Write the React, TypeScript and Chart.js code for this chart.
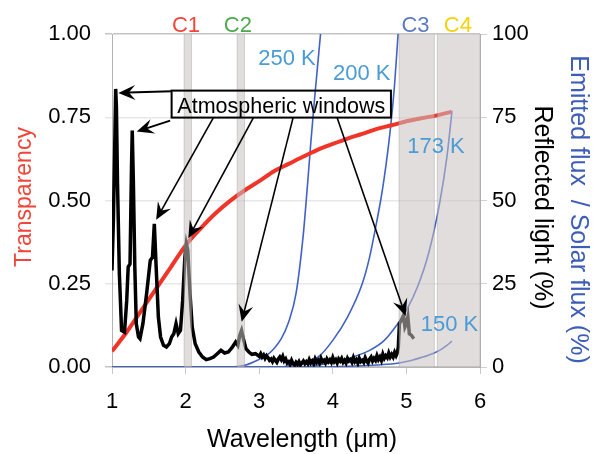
import React, { useEffect, useRef } from 'react';
import { Chart, registerables } from 'chart.js';
Chart.register(...registerables);

const FONT = '"Liberation Sans", Arial, Helvetica, sans-serif';

// Transparency of the atmosphere (left axis, 0..1)
const transWl = [1.00,1.02,1.04,1.05,1.06,1.075,1.10,1.13,1.17,1.20,1.22,1.245,1.265,1.275,1.29,1.31,1.33,1.36,1.38,1.42,1.47,1.52,1.55,1.575,1.60,1.63,1.66,1.70,1.74,1.78,1.81,1.84,1.87,1.90,1.93,1.96,1.99,2.01,2.03,2.06,2.09,2.13,2.18,2.23,2.28,2.33,2.38,2.43,2.48,2.53,2.58,2.63,2.68,2.71,2.735,2.76,2.785,2.82,2.86,2.90,2.95,
  3.00,3.02,3.04,3.06,3.08,3.10,3.12,3.14,3.16,3.18,3.20,3.22,3.24,3.26,3.28,3.30,3.32,3.34,3.36,3.38,3.40,3.42,3.44,3.46,3.48,3.50,3.52,3.54,3.56,3.58,3.60,3.62,3.64,3.66,3.68,3.70,3.72,3.74,3.76,3.78,3.80,3.82,3.84,3.86,3.88,3.90,3.92,3.94,3.96,3.98,
  4.00,4.02,4.04,4.06,4.08,4.10,4.12,4.14,4.16,4.18,4.20,4.22,4.24,4.26,4.28,4.30,4.32,4.34,4.36,4.38,4.40,4.42,4.44,4.46,4.48,4.50,4.52,4.54,4.56,4.58,4.60,4.62,4.64,4.66,4.68,4.70,4.72,4.74,4.76,4.78,4.80,4.82,4.84,4.86,4.875,
  4.89,4.905,4.93,4.96,4.98,5.00,5.02,5.04,5.07,5.10];
const transVal = [0.29,0.45,0.70,0.835,0.78,0.55,0.28,0.11,0.105,0.20,0.30,0.31,0.60,0.71,0.56,0.30,0.13,0.09,0.085,0.13,0.22,0.32,0.33,0.43,0.30,0.15,0.09,0.065,0.06,0.07,0.09,0.10,0.13,0.10,0.11,0.20,0.33,0.37,0.35,0.22,0.12,0.07,0.045,0.03,0.022,0.025,0.03,0.04,0.05,0.042,0.045,0.058,0.075,0.065,0.095,0.11,0.085,0.055,0.045,0.038,0.04,
  0.032,0.04,0.03,0.036,0.026,0.034,0.028,0.02,0.024,0.016,0.026,0.02,0.014,0.024,0.03,0.022,0.032,0.018,0.024,0.012,0.016,0.008,0.02,0.01,0.006,0.014,0.008,0.016,0.006,0.012,0.018,0.01,0.016,0.01,0.022,0.012,0.018,0.01,0.024,0.014,0.02,0.012,0.026,0.016,0.02,0.012,0.024,0.016,0.022,0.014,
  0.028,0.016,0.022,0.012,0.024,0.018,0.026,0.014,0.02,0.012,0.026,0.018,0.022,0.014,0.028,0.016,0.022,0.012,0.026,0.016,0.02,0.014,0.028,0.018,0.012,0.024,0.03,0.018,0.026,0.02,0.034,0.022,0.03,0.02,0.038,0.026,0.034,0.028,0.042,0.03,0.038,0.03,0.044,0.034,0.042,
  0.06,0.13,0.14,0.155,0.12,0.13,0.15,0.10,0.095,0.085];

// Reflected light (%), right axis
const reflWl = [1.0,1.2,1.4,1.6,1.8,2.0,2.2,2.4,2.6,2.8,3.0,3.2,3.4,3.6,3.8,4.0,4.2,4.4,4.6,4.8,5.0,5.2,5.4,5.61];
const reflVal = [4.7,10.5,17,23.5,30,36.5,41.5,46,49.8,53,55.8,58.8,61,63.2,65.3,67,68.6,70,71.5,72.6,73.8,74.7,75.5,76.6];

// Emitted flux / solar flux (%), right axis
const k250Wl = [1.0,2.6,2.8,3.0,3.1,3.2,3.3,3.4,3.5,3.6,3.65,3.7,3.75,3.8,3.85];
const k250Val = [0,0,0.5,2.3,3.5,5.5,8.5,13.5,22,40,53,67,80,92,104];
const k200Wl = [1.0,3.3,3.5,3.8,4.0,4.2,4.4,4.5,4.6,4.65,4.7,4.78,4.84,4.89];
const k200Val = [0,0,1,3,8,15,25,33,44,50,57,71,85,101];
const k173Wl = [1.0,3.6,3.9,4.2,4.5,4.7,4.85,5.0,5.15,5.3,5.45,5.55,5.62];
const k173Val = [0,0,1,2.5,5,8,12,17,24,34,49,63,77];
const k150Wl = [1.0,3.8,4.3,4.6,4.9,5.1,5.3,5.45,5.55,5.62];
const k150Val = [0,0,0.3,0.6,1.2,2.2,3.5,5,6.5,7.8];

// Spectral windows
const bandLabels = ['C1', 'C2', 'C3', 'C4'];
const bandStart = [1.98, 2.70, 4.90, 5.42];
const bandEnd = [2.08, 2.80, 5.38, 6.0];
const bandLabelX = [2.005, 2.71, 5.123, 5.70];
const bandLabelColors = ['#f0463a', '#4caa4c', '#5a7cc4', '#f6d20e'];

// Temperature labels
const tempLabels = ['250 K', '200 K', '173 K', '150 K'];
const tempX = [3.378, 4.393, 5.402, 5.585];
const tempY = [0.908, 0.863, 0.644, 0.108];

// Arrows from the "Atmospheric windows" box to the peaks
const arrowFrom = [[1.81, 0.828], [1.79, 0.74], [2.376, 0.748], [2.92, 0.748], [3.46, 0.748], [4.06, 0.748]];
const arrowTo = [[1.086, 0.823], [1.336, 0.707], [1.60, 0.442], [2.037, 0.387], [2.762, 0.136], [4.99, 0.153]];
const boxX = [1.81, 4.79];
const boxY = [0.749, 0.83];

const pts = (xs: number[], ys: number[]) => xs.map((x, i) => ({ x, y: ys[i] }));

function drawArrow(ctx: CanvasRenderingContext2D, x1: number, y1: number, x2: number, y2: number, lw: number) {
  const ang = Math.atan2(y2 - y1, x2 - x1);
  const dx = Math.cos(ang), dy = Math.sin(ang);
  const nx = -dy, ny = dx;
  const L = 17, W = 7.5;
  ctx.lineWidth = lw;
  ctx.beginPath();
  ctx.moveTo(x1, y1);
  ctx.lineTo(x2 - dx * L * 0.6, y2 - dy * L * 0.6);
  ctx.stroke();
  ctx.beginPath();
  ctx.moveTo(x2, y2);
  ctx.lineTo(x2 - dx * L + nx * W, y2 - dy * L + ny * W);
  ctx.lineTo(x2 - dx * L * 0.62, y2 - dy * L * 0.62);
  ctx.lineTo(x2 - dx * L - nx * W, y2 - dy * L - ny * W);
  ctx.closePath();
  ctx.fill();
}

const overlay = {
  id: 'overlay',
  afterDatasetsDraw(chart: any) {
    const { ctx, chartArea, scales } = chart;
    const x = scales.x;
    ctx.save();
    bandStart.forEach((s, i) => {
      const x1 = x.getPixelForValue(s);
      const x2 = x.getPixelForValue(bandEnd[i]);
      ctx.fillStyle = 'rgba(200,193,193,0.55)';
      ctx.fillRect(x1, chartArea.top, x2 - x1, chartArea.bottom - chartArea.top);
      ctx.strokeStyle = 'rgba(150,140,140,0.35)';
      ctx.lineWidth = 1;
      ctx.beginPath();
      ctx.moveTo(x1, chartArea.top); ctx.lineTo(x1, chartArea.bottom);
      ctx.moveTo(x2, chartArea.top); ctx.lineTo(x2, chartArea.bottom);
      ctx.stroke();
    });
    ctx.restore();
  },
  afterDraw(chart: any) {
    const { ctx, scales } = chart;
    const x = scales.x, y = scales.y;
    const px = (v: number) => x.getPixelForValue(v);
    const py = (v: number) => y.getPixelForValue(v);
    ctx.save();
    // band labels
    ctx.textAlign = 'center';
    ctx.textBaseline = 'alphabetic';
    ctx.font = `22px ${FONT}`;
    bandLabels.forEach((t, i) => {
      ctx.fillStyle = bandLabelColors[i];
      ctx.fillText(t, px(bandLabelX[i]), 31.5);
    });
    // temperature labels
    ctx.font = `22px ${FONT}`;
    ctx.fillStyle = '#4a9bd6';
    tempLabels.forEach((t, i) => ctx.fillText(t, px(tempX[i]), py(tempY[i])));
    // box
    ctx.strokeStyle = '#000';
    ctx.lineWidth = 2;
    const bx1 = px(boxX[0]), bx2 = px(boxX[1]), by1 = py(boxY[1]), by2 = py(boxY[0]);
    ctx.strokeRect(bx1, by1, bx2 - bx1, by2 - by1);
    ctx.fillStyle = '#000';
    ctx.font = `21.5px ${FONT}`;
    ctx.fillText('Atmospheric windows', (bx1 + bx2) / 2, by2 - 5);
    // arrows
    ctx.strokeStyle = '#000';
    ctx.fillStyle = '#000';
    arrowFrom.forEach((f, i) => {
      const t = arrowTo[i];
      drawArrow(ctx, px(f[0]), py(f[1]), px(t[0]), py(t[1]), i < 2 ? 2 : 1.6);
    });
    // axis titles
    ctx.font = `23px ${FONT}`;
    ctx.fillStyle = '#f0463a';
    ctx.save();
    ctx.translate(31, 197);
    ctx.rotate(-Math.PI / 2);
    ctx.textAlign = 'center';
    ctx.fillText('Transparency', 0, 0);
    ctx.restore();

    ctx.font = `25px ${FONT}`;
    ctx.fillStyle = '#000';
    ctx.save();
    ctx.translate(535, 207.5);
    ctx.rotate(Math.PI / 2);
    ctx.textAlign = 'center';
    ctx.fillText('Reflected light (%)', 0, 0);
    ctx.restore();

    ctx.fillStyle = '#3d5db8';
    ctx.save();
    ctx.translate(570.5, 209.5);
    ctx.rotate(Math.PI / 2);
    ctx.textAlign = 'center';
    ctx.fillText('Emitted flux  / Solar flux (%)', 0, 0);
    ctx.restore();

    ctx.fillStyle = '#000';
    ctx.textAlign = 'center';
    ctx.fillText('Wavelength (\u03bcm)', 302, 447);
    ctx.restore();
  },
};

export default function App() {
  const ref = useRef<HTMLCanvasElement>(null);
  useEffect(() => {
    const blue = 'rgb(64,98,196)';
    const tickFont = { family: FONT, size: 22 };
    const chart = new Chart(ref.current as HTMLCanvasElement, {
      type: 'line',
      data: {
        datasets: [
          { label: 'Transparency', data: pts(transWl, transVal), yAxisID: 'y', borderColor: '#000', borderWidth: 3.5, pointRadius: 0, tension: 0, order: 0 },
          { label: 'Reflected light', data: pts(reflWl, reflVal), yAxisID: 'y1', borderColor: 'rgb(240,52,40)', borderWidth: 4, pointRadius: 0, cubicInterpolationMode: 'monotone', order: 1 },
          { label: '250 K', data: pts(k250Wl, k250Val), yAxisID: 'y1', borderColor: blue, borderWidth: 1.6, pointRadius: 0, cubicInterpolationMode: 'monotone', order: 2 },
          { label: '200 K', data: pts(k200Wl, k200Val), yAxisID: 'y1', borderColor: blue, borderWidth: 1.6, pointRadius: 0, cubicInterpolationMode: 'monotone', order: 2 },
          { label: '173 K', data: pts(k173Wl, k173Val), yAxisID: 'y1', borderColor: blue, borderWidth: 1.6, pointRadius: 0, cubicInterpolationMode: 'monotone', order: 2 },
          { label: '150 K', data: pts(k150Wl, k150Val), yAxisID: 'y1', borderColor: blue, borderWidth: 1.6, pointRadius: 0, cubicInterpolationMode: 'monotone', order: 2 },
        ] as any,
      },
      options: {
        animation: false,
        responsive: false,
        parsing: false as any,
        normalized: true,
        layout: { padding: { top: 34, left: 0, right: 0, bottom: 0 } },
        plugins: { legend: { display: false }, tooltip: { enabled: false } },
        scales: {
          x: {
            type: 'linear', min: 1, max: 6, position: 'bottom',
            ticks: { stepSize: 1, font: tickFont, color: '#000', padding: 15 },
            grid: { drawOnChartArea: false, tickLength: 7, color: '#c8c8c8' },
            border: { color: '#b4b4b4' },
            afterFit: (s: any) => { s.height = 87; },
          },
          y: {
            type: 'linear', min: 0, max: 1, position: 'left',
            ticks: { stepSize: 0.25, font: tickFont, color: '#000', padding: 14, callback: (v: any) => Number(v).toFixed(2) },
            grid: {
              tickLength: 7,
              color: (c: any) => (c.tick && (c.tick.value === 1 || c.tick.value === 0) ? '#c4c4c4' : '#e8e8e8'),
              lineWidth: 1.5,
            },
            border: { color: '#b4b4b4' },
            afterFit: (s: any) => { s.width = 112; },
          },
          y1: {
            type: 'linear', min: 0, max: 100, position: 'right',
            ticks: { stepSize: 25, font: tickFont, color: '#000', padding: 5 },
            grid: { drawOnChartArea: false, tickLength: 7, color: '#d0d0d0' },
            border: { color: '#b4b4b4' },
            afterFit: (s: any) => { s.width = 118; },
          },
        },
      } as any,
      plugins: [overlay],
    });
    return () => chart.destroy();
  }, []);
  return (
    <div style={{ position: 'fixed', left: 0, top: 0, width: 598, height: 454, background: '#fff' }}>
      <canvas ref={ref} width={598} height={454} style={{ display: 'block' }} />
    </div>
  );
}
